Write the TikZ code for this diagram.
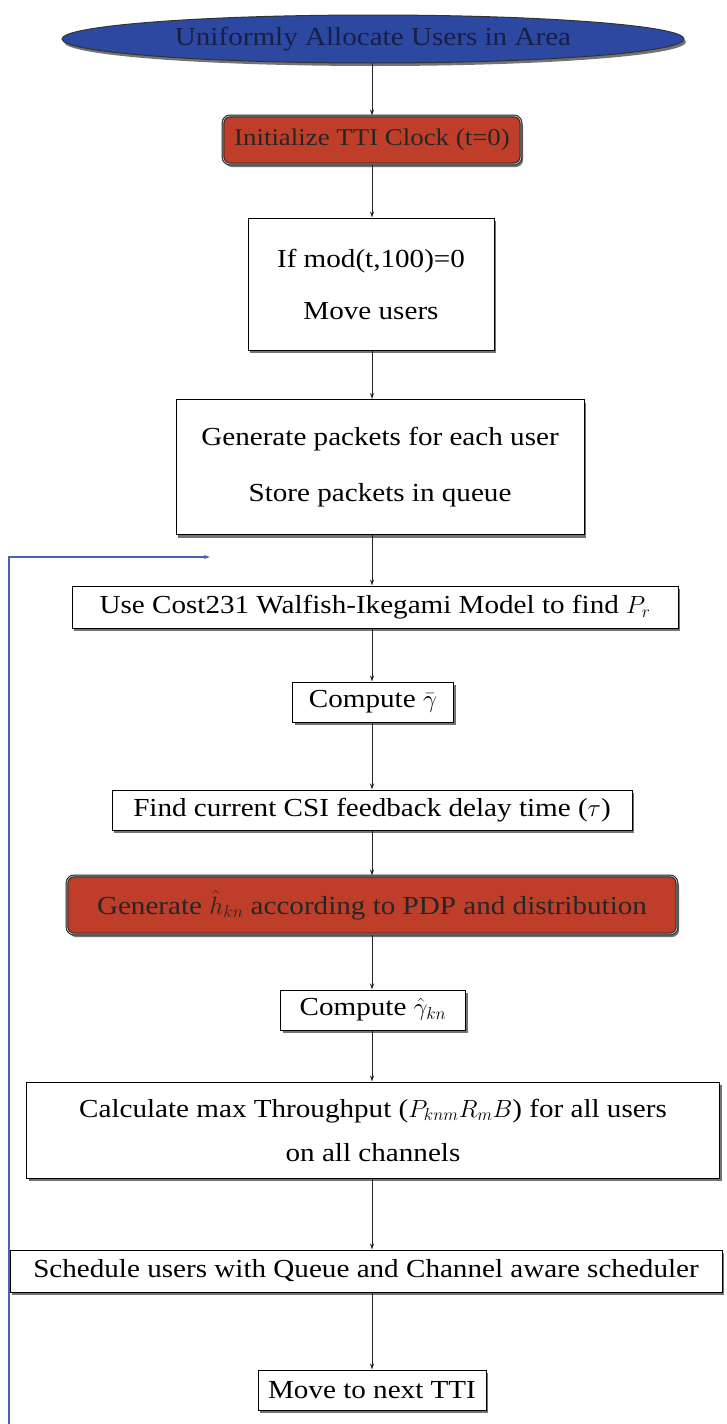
\documentclass[tikz,border=0pt]{standalone}
\usepackage{fontspec}
\setmainfont{Liberation Serif}[FakeStretch=1.12]
\usetikzlibrary{shapes.geometric,shadows,arrows.meta}
\definecolor{boxred}{RGB}{190,62,42}
\definecolor{ellblue}{RGB}{44,72,160}
\definecolor{elltext}{RGB}{25,30,70}
\definecolor{loopblue}{RGB}{70,100,175}
\begin{document}
\begin{tikzpicture}[x=1pt,y=-1pt,
  base/.style={draw=black, line width=1pt, align=center, inner sep=0pt,
    font=\fontsize{26}{34}\selectfont,
    drop shadow={shadow xshift=2pt, shadow yshift=-3pt, fill=black!55, opacity=1}},
  plainbox/.style={base, fill=white},
  redbox/.style={base, fill=boxred, rounded corners=7pt, draw=black!85, double=black!25, double distance=0.8pt, text=black!85},
  ellnode/.style={ellipse, fill=ellblue, draw=black!80, line width=1pt, text=elltext,
    font=\fontsize{26}{34}\selectfont, inner sep=0pt,
    drop shadow={shadow xshift=2pt, shadow yshift=-3pt, fill=black!55, opacity=1}},
  flow/.style={draw=black!85, line width=1pt, -{Stealth[length=6pt,width=4pt]}},
  loopline/.style={draw=loopblue, line width=1.2pt, -{Stealth[length=6pt,width=4pt]}}
]
\useasboundingbox (0,0) rectangle (726,1424);
\node[ellnode, minimum width=622pt, minimum height=48pt] (n0) at (373,39) {Uniformly Allocate Users in Area};
\node[redbox, minimum width=298pt, minimum height=48pt, font=\fontsize{24}{30}\selectfont] (n1) at (372,140) {Initialize TTI Clock (t=0)};
\node[plainbox, minimum width=246pt, minimum height=132pt] (n2) at (371,284) {If mod(t,100)=0\\[18pt]Move users};
\node[plainbox, minimum width=408pt, minimum height=135pt] (n3) at (380,467) {Generate packets for each user\\[22pt]Store packets in queue};
\node[plainbox, minimum width=606pt, minimum height=42pt] (n4) at (375,607) {Use Cost231 Walfish-Ikegami Model to find $P_r$};
\node[plainbox, minimum width=161pt, minimum height=40pt] (n5) at (373,702) {Compute $\bar{\gamma}$};
\node[plainbox, minimum width=520pt, minimum height=40pt] (n6) at (372,810) {Find current CSI feedback delay time ($\tau$)};
\node[redbox, minimum width=610pt, minimum height=58pt] (n7) at (372,905) {Generate $\hat{h}_{kn}$ according to PDP and distribution};
\node[plainbox, minimum width=185pt, minimum height=40pt] (n8) at (373,1010) {Compute $\hat{\gamma}_{kn}$};
\node[plainbox, minimum width=693pt, minimum height=96pt] (n9) at (373,1130) {Calculate max Throughput ($P_{knm}R_mB$) for all users\\[10pt]on all channels};
\node[plainbox, minimum width=712pt, minimum height=42pt] (n10) at (366,1271) {Schedule users with Queue and Channel aware scheduler};
\node[plainbox, minimum width=228pt, minimum height=40pt] (n11) at (372,1390) {Move to next TTI};
\draw[flow] (n0.south -| n1.north) -- (n1.north);
\draw[flow] (n1.south) -- (n1.south |- n2.north);
\draw[flow] (n2.south -| n1.south) -- (n1.south |- n3.north);
\draw[flow] (n3.south -| n1.south) -- (n1.south |- n4.north);
\draw[flow] (n4.south -| n1.south) -- (n1.south |- n5.north);
\draw[flow] (n5.south -| n1.south) -- (n1.south |- n6.north);
\draw[flow] (n6.south -| n1.south) -- (n1.south |- n7.north);
\draw[flow] (n7.south -| n1.south) -- (n1.south |- n8.north);
\draw[flow] (n8.south -| n1.south) -- (n1.south |- n9.north);
\draw[flow] (n9.south -| n1.south) -- (n1.south |- n10.north);
\draw[flow] (n10.south -| n1.south) -- (n1.south |- n11.north);
\coordinate (lb) at (9,1424);
\coordinate (lt) at (9,557);
\coordinate (la) at (210,557);
\draw[loopline] (lb) -- (lt) -- (la);
\end{tikzpicture}
\end{document}
